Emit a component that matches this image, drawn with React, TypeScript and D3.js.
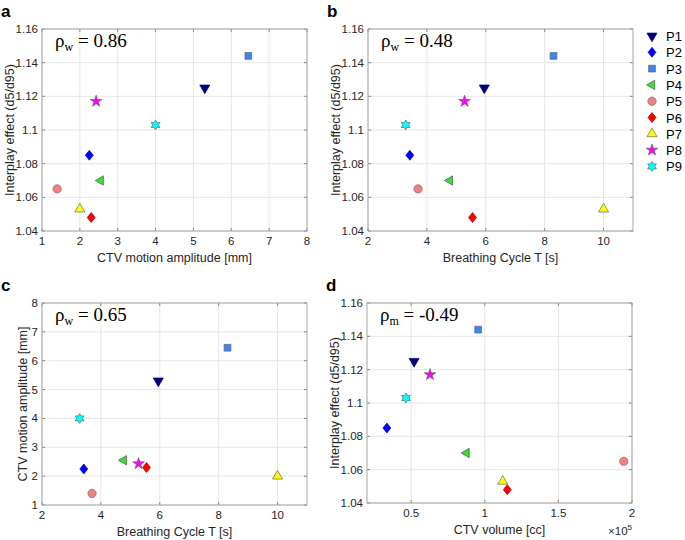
import * as d3 from "d3";

const patients = ["P1", "P2", "P3", "P4", "P5", "P6", "P7", "P8", "P9"];
const amplitude = [5.3, 2.25, 6.45, 2.55, 1.4, 2.3, 2.0, 2.43, 4.0];
const cycle = [5.95, 3.42, 8.3, 4.78, 3.7, 5.55, 10.0, 5.28, 3.28];
const interplay = [1.125, 1.085, 1.144, 1.07, 1.065, 1.048, 1.053, 1.117, 1.103];
const volume = [52000, 33500, 95500, 87600, 194400, 115300, 112200, 62800, 46500];

const fills = ["#000080", "#0000ff", "#3a86f5", "#33e033", "#f08080", "#ff0000", "#ffff00", "#ff00ff", "#00ffff"];
const strokes = ["#000080", "#0000cc", "#666", "#555", "#777", "#990000", "#666", "#666", "#666"];
const shapes = ["tri-down", "diamond", "square", "tri-left", "circle", "diamond", "tri-up", "star", "hexagram"];

const interplayTicks = [1.04, 1.06, 1.08, 1.1, 1.12, 1.14, 1.16];

const hexagram = {
  draw(ctx: any, size: number) {
    const r = Math.sqrt(size) * 0.68;
    const ri = r * 0.577;
    for (let i = 0; i < 12; i++) {
      const a = (i * Math.PI) / 6 - Math.PI / 2;
      const rr = i % 2 === 0 ? r : ri;
      const x = rr * Math.cos(a), y = rr * Math.sin(a);
      if (i === 0) ctx.moveTo(x, y); else ctx.lineTo(x, y);
    }
    ctx.closePath();
  },
};

// matlab-style diamond, a bit wider than d3's
const diamond = {
  draw(ctx: any, size: number) {
    const h = Math.sqrt(size) * 0.75;
    const w = h * 0.8;
    ctx.moveTo(0, -h);
    ctx.lineTo(w, 0);
    ctx.lineTo(0, h);
    ctx.lineTo(-w, 0);
    ctx.closePath();
  },
};

function markerPath(shape: string) {
  switch (shape) {
    case "tri-down":
    case "tri-up":
      return d3.symbol(d3.symbolTriangle, 44)();
    case "tri-left":
      return d3.symbol(d3.symbolTriangle, 38)();
    case "diamond":
      return d3.symbol(diamond as any, 44)();
    case "square":
      return d3.symbol(d3.symbolSquare, 46)();
    case "circle":
      return d3.symbol(d3.symbolCircle, 55)();
    case "star":
      return d3.symbol(d3.symbolStar, 42)();
    default:
      return d3.symbol(hexagram as any, 55)();
  }
}

function rotation(shape: string) {
  if (shape === "tri-down") return 180;
  if (shape === "tri-left") return -90;
  return 0;
}

function Marker({ i, x, y }: { i: number; x: number; y: number }) {
  return (
    <path
      d={markerPath(shapes[i]) || ""}
      transform={`translate(${x},${y}) rotate(${rotation(shapes[i])})`}
      fill={fills[i]}
      stroke={strokes[i]}
      strokeWidth={0.7}
    />
  );
}

type PanelProps = {
  letter: string;
  box: { l: number; r: number; t: number; b: number };
  xs: number[];
  ys: number[];
  xDomain: [number, number];
  yDomain: [number, number];
  xTicks: number[];
  yTicks: number[];
  xFmt?: (v: number) => string;
  xLabel: string;
  yLabel: string;
  yLabelGap?: number;
  rhoSub: string;
  rhoVal: string;
  exponent?: boolean;
};

const font = "'Liberation Sans', Arial, sans-serif";
const tickColor = "#262626";

function Panel(p: PanelProps) {
  const { l, r, t, b } = p.box;
  const x = d3.scaleLinear().domain(p.xDomain).range([l, r]);
  const y = d3.scaleLinear().domain(p.yDomain).range([b, t]);
  const fmt = p.xFmt || ((v: number) => String(v));
  const gap = p.yLabelGap ?? 28;
  return (
    <g>
      <rect x={l} y={t} width={r - l} height={b - t} fill="#fff" />
      {p.xTicks.map((v) => (
        <line key={"gx" + v} x1={x(v)} x2={x(v)} y1={t} y2={b} stroke="#e6e6e6" strokeWidth={1} />
      ))}
      {p.yTicks.map((v) => (
        <line key={"gy" + v} x1={l} x2={r} y1={y(v)} y2={y(v)} stroke="#e6e6e6" strokeWidth={1} />
      ))}
      {p.xTicks.map((v) => (
        <g key={"tx" + v}>
          <line x1={x(v)} x2={x(v)} y1={b} y2={b - 3} stroke="#888" />
          <line x1={x(v)} x2={x(v)} y1={t} y2={t + 3} stroke="#888" />
          <text x={x(v)} y={b + 14} textAnchor="middle" fontSize={11.5} fill={tickColor} fontFamily={font}>
            {fmt(v)}
          </text>
        </g>
      ))}
      {p.yTicks.map((v) => (
        <g key={"ty" + v}>
          <line x1={l} x2={l + 3} y1={y(v)} y2={y(v)} stroke="#888" />
          <line x1={r} x2={r - 3} y1={y(v)} y2={y(v)} stroke="#888" />
          <text x={l - 4} y={y(v) + 4} textAnchor="end" fontSize={11.5} fill={tickColor} fontFamily={font}>
            {String(v)}
          </text>
        </g>
      ))}
      <rect x={l} y={t} width={r - l} height={b - t} fill="none" stroke="#a6a6a6" strokeWidth={1} />
      <text x={(l + r) / 2} y={b + 31} textAnchor="middle" fontSize={12.5} fill={tickColor} fontFamily={font}>
        {p.xLabel}
      </text>
      <text
        transform={`translate(${l - gap},${(t + b) / 2}) rotate(-90)`}
        textAnchor="middle"
        fontSize={12.5}
        fill={tickColor}
        fontFamily={font}
      >
        {p.yLabel}
      </text>
      {p.exponent && (
        <text x={r} y={b + 32} textAnchor="end" fontSize={11.5} fill={tickColor} fontFamily={font}>
          ×10<tspan dy={-5} fontSize={8}>5</tspan>
        </text>
      )}
      <text x={l + 13} y={t + 18} fontSize={19} fill="#000" fontFamily="'Liberation Serif', 'Times New Roman', serif">
        ρ<tspan dy={4} fontSize={12}>{p.rhoSub}</tspan>
        <tspan dy={-4}> = {p.rhoVal}</tspan>
      </text>
      <text x={l - 41} y={t - 12} fontSize={17} fontWeight="bold" fill="#000" fontFamily={font}>
        {p.letter}
      </text>
      {p.xs.map((xv, i) => (
        <Marker key={patients[i]} i={i} x={x(xv)} y={y(p.ys[i])} />
      ))}
    </g>
  );
}

export default function App() {
  return (
    <svg
      width={685}
      height={540}
      style={{ position: "absolute", left: 0, top: 0, background: "#fff" }}
    >
      <Panel
        letter="a"
        box={{ l: 42, r: 307, t: 29, b: 231 }}
        xs={amplitude}
        ys={interplay}
        xDomain={[1, 8]}
        yDomain={[1.04, 1.16]}
        xTicks={[1, 2, 3, 4, 5, 6, 7, 8]}
        yTicks={interplayTicks}
        xLabel="CTV motion amplitude [mm]"
        yLabel="Interplay effect (d5/d95)"
        rhoSub="w"
        rhoVal="0.86"
      />
      <Panel
        letter="b"
        box={{ l: 368, r: 633, t: 29, b: 231 }}
        xs={cycle}
        ys={interplay}
        xDomain={[2, 11]}
        yDomain={[1.04, 1.16]}
        xTicks={[2, 4, 6, 8, 10]}
        yTicks={interplayTicks}
        xLabel="Breathing Cycle T [s]"
        yLabel="Interplay effect (d5/d95)"
        rhoSub="w"
        rhoVal="0.48"
      />
      <Panel
        letter="c"
        box={{ l: 42, r: 307, t: 303, b: 505 }}
        xs={cycle}
        ys={amplitude}
        xDomain={[2, 11]}
        yDomain={[1, 8]}
        xTicks={[2, 4, 6, 8, 10]}
        yTicks={[1, 2, 3, 4, 5, 6, 7, 8]}
        xLabel="Breathing Cycle T [s]"
        yLabel="CTV motion amplitude [mm]"
        yLabelGap={15}
        rhoSub="w"
        rhoVal="0.65"
      />
      <Panel
        letter="d"
        box={{ l: 367, r: 632, t: 303, b: 503 }}
        xs={volume}
        ys={interplay}
        xDomain={[20000, 200000]}
        yDomain={[1.04, 1.16]}
        xTicks={[50000, 100000, 150000, 200000]}
        xFmt={(v) => String(v / 100000)}
        yTicks={interplayTicks}
        xLabel="CTV volume [cc]"
        yLabel="Interplay effect (d5/d95)"
        rhoSub="m"
        rhoVal="-0.49"
        exponent
      />
      {patients.map((name, i) => (
        <g key={name} transform={`translate(652,${36 + i * 16.3})`}>
          <Marker i={i} x={0} y={0} />
          <text x={14} y={5} fontSize={13} fill="#000" fontFamily={font}>
            {name}
          </text>
        </g>
      ))}
    </svg>
  );
}
